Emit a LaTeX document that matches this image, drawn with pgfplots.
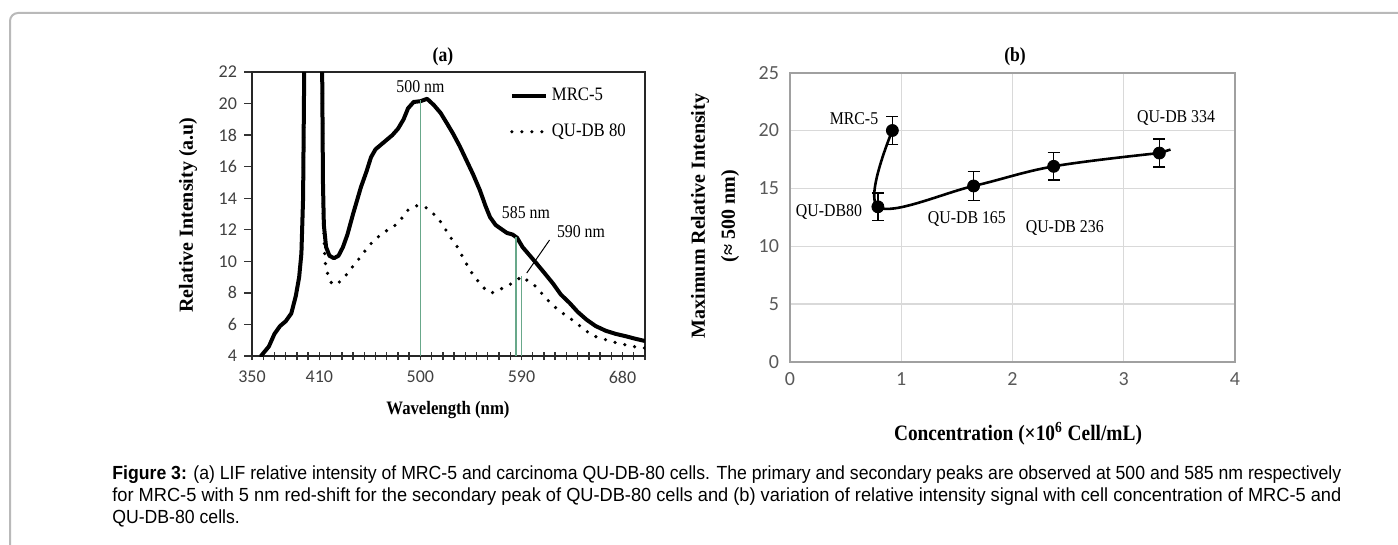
\documentclass[border=0pt]{standalone}
\usepackage{fontspec}
\setmainfont{Liberation Serif}
\newfontfamily\serifn[FakeStretch=0.88]{Liberation Serif}
\newfontfamily\tickfont{Carlito}
\newfontfamily\capfont{Liberation Sans}
\usepackage{graphicx}
\usepackage{pgfplots}
\pgfplotsset{compat=1.18}

\definecolor{peakgreen}{RGB}{104,168,138}
\definecolor{ticka}{RGB}{64,64,64}
\definecolor{tickb}{RGB}{89,89,89}
\definecolor{gridb}{RGB}{217,217,217}
\definecolor{frameb}{RGB}{160,160,160}
\definecolor{framefig}{RGB}{185,185,185}

% caption lines
\newcommand\capone{\textbf{Figure 3:} (a) LIF relative intensity of MRC-5 and carcinoma QU-DB-80 cells. The primary and secondary peaks are observed at 500 and 585 nm respectively}
\newcommand\captwo{for MRC-5 with 5 nm red-shift for the secondary peak of QU-DB-80 cells and (b) variation of relative intensity signal with cell concentration of MRC-5 and}
\newcommand\capthree{QU-DB-80 cells.}
\newcommand\capsize{\capfont\fontsize{8.25pt}{10pt}\selectfont}
\newlength\capw

\begin{document}
\settowidth\capw{\capsize\capone}%
\pgfmathsetmacro\capscale{614.5pt/\capw}%
\begin{tikzpicture}
\path[use as bounding box] (0pt,0pt) rectangle (699pt,-272.5pt);
\draw[framefig, line width=1pt, rounded corners=4pt] (5pt,-272.5pt) -- (5pt,-6.5pt) -- (699pt,-6.5pt);

% ---------------- panel (a)
\begin{axis}[
  at={(126pt,-178pt)}, anchor=south west,
  scale only axis, width=196.5pt, height=142pt,
  xmin=350, xmax=700, ymin=4, ymax=22,
  xtick={350,410,500,590,680},
  minor xtick={360,370,...,700},
  ytick={4,6,...,22},
  tick pos=left, tick align=outside,
  major tick length=4pt, minor tick length=4pt,
  every tick/.style={black!80, line width=0.7pt},
  every x tick/.append style={yshift=2pt},
  axis line style={black!85, line width=0.9pt},
  /pgf/number format/assume math mode=true,
  tick label style={font=\tickfont\fontsize{9pt}{10pt}\selectfont, text=ticka},
  legend style={at={(rel axis cs:0.64,0.972)}, anchor=north west, draw=none, fill=none,
    font=\serifn\fontsize{9.5pt}{11pt}\selectfont, row sep=6pt},
  legend cell align=left,
  legend image code/.code={\draw[#1] (0pt,0pt) -- (17pt,0pt);},
]
\addplot[black, line width=2pt, line join=round] coordinates {
(358,4.0) (365,4.6) (370,5.4) (375,5.9) (380,6.2) (385,6.7) (389,7.8) (392,9.0)
(394,10.5) (395.5,14) (396.5,22) (397.5,40) (411,40) (412.5,22) (413.2,15) (414,12.3)
(416,10.9) (419,10.35) (423,10.2) (427,10.35) (431,10.9) (435,11.7) (440,13.0)
(447,14.7) (452,15.7) (456,16.6) (460,17.1) (465,17.4) (470,17.7) (475,18.0)
(480,18.4) (485,19.0) (489,19.7) (494,20.1) (500,20.15) (506,20.3) (512,19.9)
(518,19.4) (524,18.7) (529,18.1) (535,17.3) (541,16.4) (547,15.5) (553,14.5)
(558,13.5) (562,12.8) (567,12.3) (573,12.0) (577,11.8) (582,11.7) (586,11.5)
(591,10.9) (597,10.4) (603,9.9) (610,9.3) (618,8.6) (625,7.9) (633,7.35) (640,6.8)
(648,6.3) (656,5.9) (665,5.6) (674,5.4) (683,5.25) (691,5.1) (700,4.95)};
\addlegendentry{MRC-5}
\addplot[black, line width=1.8pt, line cap=round, dash pattern=on 0pt off 5pt] coordinates {
(358,4.0) (365,4.6) (370,5.4) (375,5.9) (380,6.2) (385,6.7) (389,7.8) (392,9.0)
(394,10.5) (395.5,14) (396.5,22) (397.5,40) (411,40) (412.5,22) (413.5,13) (415,10)
(418,9.0) (421,8.6) (424,8.5) (428,8.7) (432,9.0) (436,9.3) (441,9.8) (447,10.3)
(453,10.9) (459,11.35) (465,11.7) (471,12.0) (477,12.25) (483,12.7) (489,13.25)
(495,13.5) (500,13.55) (505,13.4) (510,13.1) (515,12.8) (520,12.3) (526,11.6)
(533,10.9) (539,10.1) (544,9.45) (549,8.95) (553,8.6) (558,8.2) (562,8.0) (567,8.05)
(573,8.3) (580,8.55) (586,8.8) (590,9.05) (595,8.8) (603,8.4) (610,7.8) (618,7.2)
(627,6.7) (635,6.3) (644,5.8) (653,5.3) (662,5.1) (671,4.9) (680,4.75) (689,4.6)
(697,4.55) (700,4.5)};
\addlegendentry{QU-DB 80}
\addplot[peakgreen, line width=0.8pt, forget plot] coordinates {(500,4) (500,20.2)};
\addplot[peakgreen, line width=0.8pt, forget plot] coordinates {(585,4) (585,11.55)};
\addplot[peakgreen, line width=0.8pt, forget plot] coordinates {(590,4) (590,9.05)};
\addplot[black, line width=0.5pt, forget plot] coordinates {(615,11.35) (594.7,9.26)};
\node[font=\serifn\fontsize{9pt}{10pt}\selectfont] at (axis cs:500,21.05) {500 nm};
\node[font=\serifn\fontsize{9pt}{10pt}\selectfont] at (axis cs:594,13.06) {585 nm};
\node[font=\serifn\fontsize{9pt}{10pt}\selectfont] at (axis cs:643,11.86) {590 nm};
\end{axis}

\node[font=\serifn\bfseries\fontsize{10pt}{12pt}\selectfont] at (221.5pt,-28.5pt) {(a)};
\node[font=\bfseries\fontsize{10pt}{12pt}\selectfont, rotate=90] at (94pt,-107.5pt) {Relative Intensity (a.u)};
\node[font=\serifn\bfseries\fontsize{9.5pt}{12pt}\selectfont] at (224pt,-205pt) {Wavelength (nm)};

% ---------------- panel (b)
\begin{axis}[
  at={(395pt,-180.85pt)}, anchor=south west,
  scale only axis, width=222.5pt, height=144.5pt,
  xmin=0, xmax=4, ymin=0, ymax=25,
  xtick={0,1,2,3,4}, ytick={0,5,...,25},
  major tick length=0pt,
  grid=major, grid style={gridb, line width=0.6pt},
  axis line style={frameb, line width=0.9pt},
  /pgf/number format/assume math mode=true,
  tick label style={font=\tickfont\fontsize{10pt}{11pt}\selectfont, text=tickb},
  xticklabel style={yshift=-2pt}, yticklabel style={xshift=-2pt},
]
\addplot[black, line width=1.3pt, smooth, tension=0.6] coordinates {
(0.92,20.0) (0.79,13.4) (1.65,15.2) (2.37,16.9) (3.32,18.05)};
\addplot[black, line width=1.3pt] coordinates {(3.32,18.05) (3.42,18.35)};
\addplot[black, only marks, mark=*, mark size=3pt,
  error bars/.cd, y dir=both, y explicit,
  error bar style={line width=0.8pt},
  error mark options={rotate=90, mark size=3pt, line width=0.8pt}] coordinates {
(0.92,20.0) +- (0,1.2)
(0.79,13.4) +- (0,1.2)
(1.65,15.2) +- (0,1.25)
(2.37,16.9) +- (0,1.2)
(3.32,18.05) +- (0,1.23)};
\node[font=\serifn\fontsize{9pt}{10pt}\selectfont] at (axis cs:0.575,21.0) {MRC-5};
\node[font=\serifn\fontsize{9pt}{10pt}\selectfont] at (axis cs:0.35,12.95) {QU-DB80};
\node[font=\serifn\fontsize{9pt}{10pt}\selectfont] at (axis cs:1.59,12.33) {QU-DB 165};
\node[font=\serifn\fontsize{9pt}{10pt}\selectfont] at (axis cs:2.47,11.55) {QU-DB 236};
\node[font=\serifn\fontsize{9pt}{10pt}\selectfont] at (axis cs:3.47,21.07) {QU-DB 334};
\end{axis}

\node[font=\serifn\bfseries\fontsize{10pt}{12pt}\selectfont] at (507.5pt,-28.5pt) {(b)};
\node[font=\bfseries\fontsize{10pt}{12pt}\selectfont, rotate=90] at (350pt,-108pt) {Maximum Relative Intensity};
\node[font=\bfseries\fontsize{10pt}{12pt}\selectfont, rotate=90] at (365pt,-108pt) {(≈ 500 nm)};
\node[font=\serifn\bfseries\fontsize{11pt}{12pt}\selectfont] at (509pt,-217pt) {Concentration (×10\textsuperscript{6} Cell/mL)};

% ---------------- caption
\node[anchor=base west, inner sep=0pt] at (56pt,-239.5pt) {\scalebox{\capscale}[1.15]{\capsize\capone}};
\node[anchor=base west, inner sep=0pt] at (56pt,-250.5pt) {\resizebox{614.5pt}{1.15\height}{\capsize\captwo}};
\node[anchor=base west, inner sep=0pt] at (56pt,-261.5pt) {\scalebox{\capscale}[1.15]{\capsize\capthree}};
\end{tikzpicture}
\end{document}
